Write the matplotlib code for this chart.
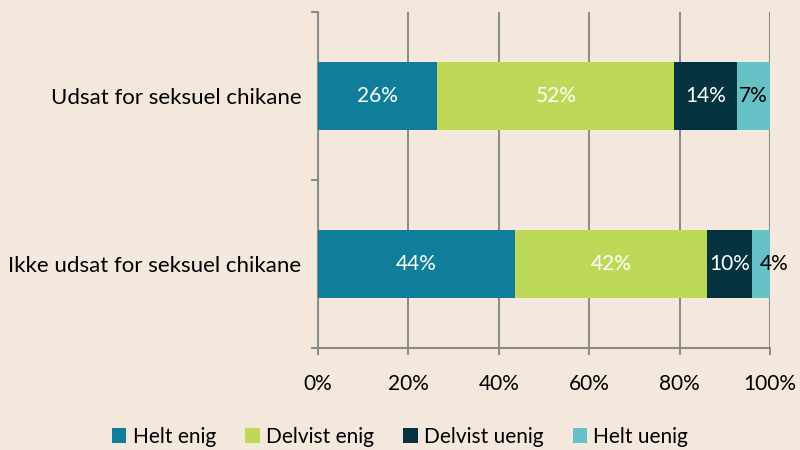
import matplotlib.pyplot as plt
import numpy as np

plt.rcParams['font.family'] = ['Lato', 'DejaVu Sans']

# data (top row first)
categories = ['Udsat for seksuel chikane', 'Ikke udsat for seksuel chikane']
series = ['Helt enig', 'Delvist enig', 'Delvist uenig', 'Helt uenig']
helt_enig = [26.4, 43.6]
delvist_enig = [52.4, 42.4]
delvist_uenig = [13.9, 10.0]
helt_uenig = [7.3, 4.0]
xticks = [0, 20, 40, 60, 80, 100]

colors = ['#107E9A', '#BED958', '#053440', '#65C1C5']
text_colors = ['white', 'white', 'white', 'black']
bg = '#F4E8DC'
grid_col = '#8C8C8C'
fs = 15

fig = plt.figure(figsize=(8, 4.5), dpi=100, facecolor=bg)
ax = fig.add_axes([0.3975, 0.2267, 0.565, 0.7466])
ax.set_facecolor(bg)

y = np.arange(len(categories))[::-1]
left = np.zeros(len(categories))
for name, vals, c, tc in zip(series, [helt_enig, delvist_enig, delvist_uenig, helt_uenig], colors, text_colors):
    vals = np.array(vals)
    ax.barh(y, vals, left=left, height=0.4, color=c, label=name, zorder=3)
    for yi, l, v in zip(y, left, vals):
        # narrow segments: label nudged to the right like the original
        if v < 5:
            ax.text(l + v / 2 - 0.3, yi, f'{v:.0f}%', ha='left', va='center',
                    color=tc, fontsize=fs, zorder=4)
        else:
            ax.text(l + v / 2, yi, f'{v:.0f}%', ha='center', va='center',
                    color=tc, fontsize=fs, zorder=4)
    left += vals

ax.set_xlim(0, 100)
ax.set_ylim(-0.5, 1.5)
ax.set_xticks(xticks)
ax.set_xticklabels([f'{t}%' for t in xticks], fontsize=fs)
ax.set_yticks(y)
ax.set_yticklabels(categories, fontsize=16)
ax.set_yticks([-0.5, 0.5, 1.5], minor=True)
ax.tick_params(axis='y', which='major', length=0, pad=12)
ax.tick_params(axis='y', which='minor', length=5, color=grid_col, width=1.5)
ax.tick_params(axis='x', length=5, color=grid_col, width=1.5, pad=14)
ax.grid(axis='x', color=grid_col, linewidth=1.5, zorder=0)

for s in ['top', 'right']:
    ax.spines[s].set_visible(False)
for s in ['left', 'bottom']:
    ax.spines[s].set_color(grid_col)
    ax.spines[s].set_linewidth(1.5)

ax.legend(loc='lower center', bbox_to_anchor=(0.5, -0.035), ncol=4,
          frameon=False, fontsize=fs, handlelength=0.7, handleheight=0.7,
          handletextpad=0.3, columnspacing=1.4,
          bbox_transform=fig.transFigure)

plt.savefig('out.png', dpi=100, facecolor=bg)
